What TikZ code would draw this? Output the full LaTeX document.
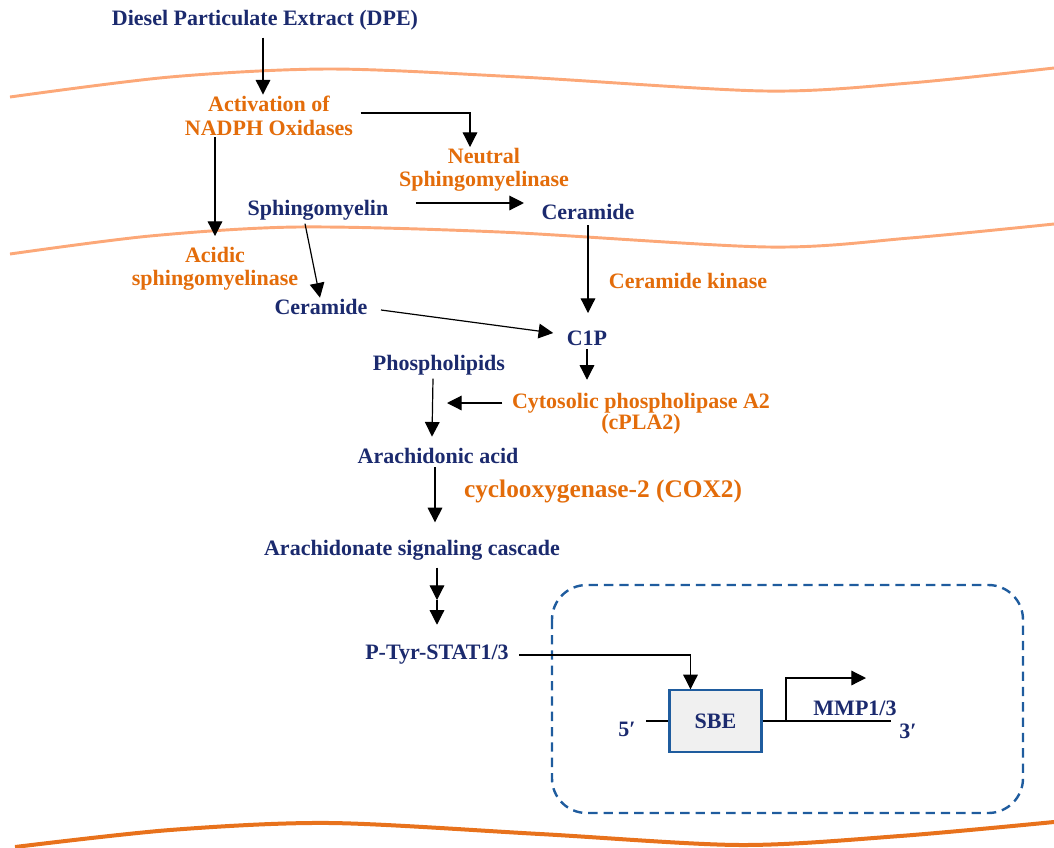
\documentclass[tikz,border=0pt]{standalone}
\usepackage{fontspec}
\setmainfont{Liberation Serif}
\usepackage{tikz}
\usetikzlibrary{arrows.meta,calc}
\definecolor{navy}{HTML}{1B2A6E}
\definecolor{orng}{HTML}{E36C0A}
\definecolor{memb}{HTML}{FCA878}
\definecolor{membd}{HTML}{E8721C}
\definecolor{dashblue}{HTML}{1F5C9E}

\begin{document}
\begin{tikzpicture}[x=0.75pt,y=-0.75pt,
  blu/.style={text=navy,font=\bfseries\fontsize{16.5}{20}\selectfont,inner sep=1pt},
  org/.style={text=orng,font=\bfseries\fontsize{16.5}{17}\selectfont,align=center,inner sep=1pt},
  arr/.style={-{Triangle[width=11pt,length=11pt]},line width=0.9pt},
  membrane/.style={memb,line width=2.2pt}]
\useasboundingbox (0,0) rectangle (1054,847);
\draw[membrane] plot[smooth] coordinates {(10,97) (170,77) (330,69) (520,77) (765,91) (910,83) (1054,68)};
\draw[membrane] plot[smooth] coordinates {(10,254) (150,236) (298,227) (500,232) (768,247) (910,238) (1054,224)};
\draw[membd,line width=3pt] plot[smooth] coordinates {(15,847) (170,830) (330,823) (540,834) (740,845) (900,836) (1054,822)};
\draw[dashblue,line width=1.8pt,dash pattern=on 7pt off 4.5pt,rounded corners=26pt] (552,585) rectangle (1023,813);

\node[blu] (dpe) at (265,20) {Diesel Particulate Extract (DPE)};
\node[org,font=\bfseries\fontsize{16.5}{18}\selectfont] (nox) at (269,116) {Activation of\\NADPH Oxidases};
\node[org] (nsm) at (484,170) {Neutral\\Sphingomyelinase};
\node[blu] (sm) at (318,210) {Sphingomyelin};
\node[blu] (cer1) at (588,212) {Ceramide};
\node[org] (ckin) at (688,281) {Ceramide kinase};
\node[org] (asm) at (215,269) {Acidic\\sphingomyelinase};
\node[blu] (cer2) at (321,307) {Ceramide};
\node[blu] (c1p) at (587,338) {C1P};
\node[blu] (pl) at (439,365) {Phospholipids};
\node[org,font=\bfseries\fontsize{16.5}{16}\selectfont] (cpla) at (641,414) {Cytosolic phospholipase A2\\(cPLA2)};
\node[blu] (aa) at (438,456) {Arachidonic acid};
\node[org,font=\bfseries\fontsize{19}{20}\selectfont] (cox) at (603,491) {cyclooxygenase-2 (COX2)};
\node[blu] (sig) at (412,550) {Arachidonate signaling cascade};
\node[blu] (stat) at (437,655) {P-Tyr-STAT1/3};
\node[blu,draw=dashblue,line width=1.6pt,fill=gray!12,minimum width=69pt,minimum height=46pt] (sbe) at (715.5,721) {SBE};
\node[blu] (mmp) at (855,708) {MMP1/3};
\node[blu] (p5) at (627,729) {5′};
\node[blu] (p3) at (908,731) {3′};
\coordinate (plaa) at (447,403);
\coordinate (dbl) at (437,600);
\coordinate (g5) at (646,721);
\coordinate (g3) at (891,721);
\coordinate (tss) at (786,721);
\coordinate (tx) at (866,678);

\draw[arr] ($(dpe.south)+(-2,6)$) -- ($(dpe.south |- nox.north)+(-2,0)$);
\draw[arr] ($(nox.east)+(6,-3)$) -| ($(nsm.north)+(-14,0)$);
\draw[arr] (nox.south -| asm.north) -- ($(asm.north)+(0,-10)$);
\draw[arr] ($(sm.east)+(26,-7)$) -- ($(cer1.west)+(-16,-9)$);
\draw[arr] ($(sm.south)+(-13,2)$) -- ($(cer2.north)+(-1,0)$);
\draw[arr] ($(cer2.east)+(12,3)$) -- ($(c1p.west)+(-12,-5)$);
\draw[arr] ($(cer1.south)+(0,4)$) -- ($(cer1.south |- c1p.north)+(0,-16)$);
\draw[arr] ($(c1p.south)+(0,2)$) -- ($(c1p.south |- cpla.north)+(0,-12)$);
\draw[arr] ($(pl.south)+(-6,2)$) -- ($(aa.north)+(-6,-10)$);
\draw[arr] ($(cpla.west)+(-8,-11)$) -- (plaa);
\draw[arr] ($(aa.south)+(-3,2)$) -- ($(aa.south |- sig.north)+(-3,-16)$);
\draw[arr] ($(sig.south -| dbl)+(0,6)$) -- (dbl);
\draw[arr] (dbl) -- ($(dbl |- stat.north)+(0,-19)$);
\draw[arr] ($(stat.east)+(9,0)$) -| ($(sbe.north)+(-25,0)$);
\draw[line width=0.9pt] (g5) -- (sbe.west);
\draw[line width=0.9pt] (sbe.east) -- (g3);
\draw[arr] (tss) |- (tx);
\end{tikzpicture}
\end{document}
